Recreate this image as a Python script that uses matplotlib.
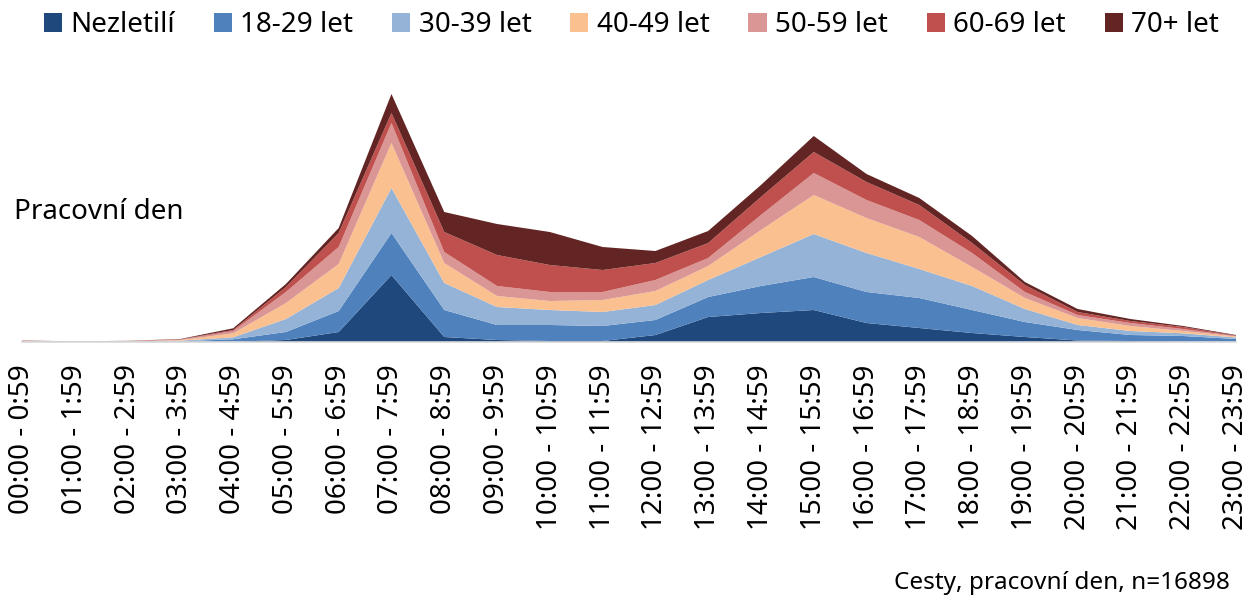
import numpy as np
import matplotlib
matplotlib.use("Agg")
from matplotlib import pyplot as plt
from matplotlib.patches import Patch

plt.rcParams['font.family'] = ['Noto Sans', 'DejaVu Sans']

# time slots
hours = ["%02d:00 - %d:59" % (h, h) for h in range(24)]

groups = ["Nezletilí", "18-29 let", "30-39 let", "40-49 let",
          "50-59 let", "60-69 let", "70+ let"]
colors = ["#1F497D", "#4F81BD", "#95B3D7", "#FAC090",
          "#D99694", "#C0504D", "#632523"]

# values (stacked layers, arbitrary units)
nezletili = [0.1, 0.05, 0.1, 0.2, 0.3, 2, 10, 67, 5, 2, 1, 1,
             7, 25, 29, 32, 19, 14, 9, 5, 1.5, 1, 0.5, 0.3]
v18_29 = [0.2, 0.1, 0.2, 0.5, 2.4, 8, 21, 42, 27, 15, 16, 15,
          15, 20, 27, 33, 31, 30, 23, 15, 10.5, 6, 5.5, 2.7]
v30_39 = [0.3, 0.15, 0.3, 0.6, 2, 13, 23, 45, 27, 18, 15, 14,
          15, 17, 29, 43, 39, 29, 24, 13, 5, 4, 2.7, 1.5]
v40_49 = [0.3, 0.15, 0.2, 0.6, 4, 16, 24, 45, 20, 11, 9, 12,
          14, 14, 27, 39, 35, 32, 19, 11, 7, 5, 2.3, 1]
v50_59 = [0.2, 0.1, 0.2, 0.5, 2.3, 11, 17, 20, 11, 10, 9, 8,
          11, 8, 15, 22, 18, 17, 14, 6, 3, 3, 2, 0.5]
v60_69 = [0.2, 0.1, 0.1, 0.3, 1, 5, 14, 10, 20, 31, 27, 22,
          17, 15, 18, 21, 18, 15, 10, 7, 3, 2, 2, 0.5]
v70 = [0.2, 0.05, 0.1, 0.3, 1.7, 3, 5, 19, 20, 31, 33, 23,
       12, 12, 12, 16, 8, 7, 7, 3, 3, 2, 1, 0.5]

series = [nezletili, v18_29, v30_39, v40_49, v50_59, v60_69, v70]

fig = plt.figure(figsize=(12.52, 5.98), dpi=100)
ax = fig.add_axes([22 / 1252, (598 - 342) / 598, 1214 / 1252, 282 / 598])

x = np.arange(len(hours))
ax.stackplot(x, *series, colors=colors, linewidth=0)

ax.set_xlim(0, 23)
ax.set_ylim(0, 282)
ax.set_xticks(x)
ax.set_xticklabels(hours, rotation=90, fontsize=20)
ax.tick_params(axis="x", length=0, pad=16)
ax.set_yticks([])
for s in ["top", "right", "left"]:
    ax.spines[s].set_visible(False)
ax.spines["bottom"].set_color("#d9d9d9")
ax.spines["bottom"].set_linewidth(1.2)

handles = [Patch(facecolor=c, edgecolor="none") for c in colors]
fig.legend(handles, groups, loc="center left", bbox_to_anchor=(44 / 1252, 1 - 25 / 598),
           ncol=7, frameon=False, fontsize=20, handlelength=0.65, handleheight=0.65,
           handletextpad=0.3, columnspacing=1.4, borderaxespad=0, borderpad=0)

fig.text(14 / 1252, 1 - 212 / 598, "Pracovní den", fontsize=20, va="center", ha="left")
fig.text(1230 / 1252, 1 - 583 / 598, "Cesty, pracovní den, n=16898", fontsize=17.5,
         va="center", ha="right")

fig.savefig("out.png", dpi=100)
